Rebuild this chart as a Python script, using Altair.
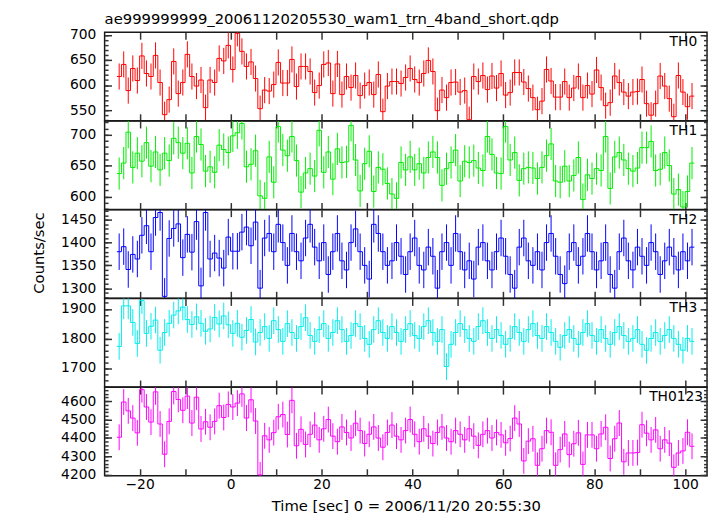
import altair as alt
import pandas as pd

FONT = "DejaVu Sans"

# bin start times [s] (1-s bins)
t0 = list(range(-25, 102))

th0 = [617, 641, 589, 633, 609, 658, 623, 617, 659, 605,
       541, 571, 647, 583, 605, 661, 617, 598, 610, 555,
       610, 605, 653, 648, 679, 631, 703, 667, 637, 646,
       613, 553, 590, 588, 601, 645, 604, 604, 651, 597,
       637, 637, 627, 585, 599, 641, 644, 583, 642, 581,
       617, 595, 619, 579, 599, 605, 581, 621, 547, 598,
       607, 607, 603, 615, 633, 611, 605, 623, 649, 627,
       549, 590, 575, 605, 606, 586, 589, 531, 617, 607,
       619, 591, 618, 594, 623, 580, 585, 625, 625, 606,
       593, 575, 551, 568, 631, 608, 576, 576, 607, 575,
       594, 617, 575, 599, 582, 630, 595, 559, 565, 618,
       605, 586, 578, 586, 587, 611, 563, 540, 563, 618,
       598, 573, 537, 619, 586, 557, 578]

th1 = [637, 654, 704, 647, 670, 657, 687, 649, 672, 643,
       670, 658, 694, 687, 670, 686, 638, 697, 684, 641,
       648, 639, 683, 676, 671, 698, 703, 718, 648, 652,
       674, 601, 597, 664, 623, 713, 675, 666, 697, 658,
       607, 638, 645, 633, 707, 639, 672, 628, 677, 655,
       656, 715, 659, 609, 653, 673, 608, 647, 644, 621,
       604, 597, 655, 643, 664, 643, 653, 638, 663, 672,
       663, 618, 645, 655, 675, 625, 657, 655, 658, 646,
       642, 697, 668, 638, 637, 713, 659, 671, 626, 645,
       647, 646, 629, 647, 666, 685, 625, 623, 649, 625,
       634, 663, 595, 635, 629, 645, 642, 697, 613, 664,
       671, 659, 645, 641, 646, 679, 679, 689, 642, 644,
       671, 650, 604, 611, 583, 608, 654]

th2 = [1380, 1391, 1341, 1374, 1364, 1416, 1437, 1380, 1455, 1466,
       1282, 1409, 1431, 1441, 1367, 1418, 1379, 1446, 1305, 1466,
       1364, 1377, 1366, 1344, 1412, 1381, 1381, 1423, 1434, 1393,
       1445, 1300, 1410, 1420, 1380, 1440, 1400, 1350, 1420, 1380,
       1360, 1410, 1440, 1390, 1360, 1400, 1330, 1380, 1420, 1360,
       1340, 1400, 1430, 1380, 1350, 1320, 1440, 1420, 1380, 1350,
       1360, 1400, 1370, 1330, 1380, 1410, 1350, 1340, 1390, 1370,
       1300, 1380, 1400, 1350, 1420, 1380, 1340, 1360, 1320, 1390,
       1400, 1360, 1340, 1380, 1410, 1370, 1330, 1300, 1390, 1410,
       1360, 1350, 1380, 1340, 1400, 1420, 1370, 1330, 1310, 1380,
       1400, 1350, 1370, 1420, 1380, 1340, 1360, 1400, 1330, 1300,
       1380, 1410, 1360, 1340, 1390, 1370, 1350, 1400, 1380, 1330,
       1360, 1390, 1370, 1340, 1380, 1360, 1390]

th3 = [1773, 1910, 1910, 1854, 1783, 1928, 1817, 1841, 1862, 1760,
       1820, 1851, 1879, 1893, 1906, 1864, 1847, 1873, 1851, 1824,
       1832, 1871, 1849, 1876, 1846, 1817, 1851, 1804, 1827, 1864,
       1788, 1820, 1840, 1800, 1860, 1830, 1790, 1850, 1820, 1800,
       1840, 1870, 1810, 1790, 1830, 1850, 1800, 1820, 1860, 1830,
       1790, 1810, 1850, 1840, 1800, 1780, 1830, 1860, 1820, 1800,
       1840, 1820, 1790, 1830, 1850, 1810, 1800, 1840, 1860, 1820,
       1790, 1830, 1705, 1780, 1820, 1850, 1830, 1800, 1790, 1840,
       1860, 1820, 1800, 1830, 1810, 1780, 1800, 1840, 1820, 1790,
       1830, 1850, 1810, 1800, 1840, 1820, 1790, 1770, 1810, 1830,
       1800, 1780, 1820, 1850, 1810, 1790, 1830, 1800, 1780, 1820,
       1840, 1810, 1790, 1800, 1830, 1780, 1760, 1800, 1820, 1790,
       1810, 1830, 1800, 1780, 1760, 1800, 1790]

th0123 = [4404, 4595, 4547, 4508, 4428, 4662, 4568, 4486, 4650, 4476,
          4312, 4490, 4652, 4609, 4550, 4627, 4481, 4621, 4449, 4488,
          4458, 4490, 4575, 4511, 4582, 4568, 4589, 4639, 4508, 4607,
          4492, 4200, 4412, 4390, 4429, 4515, 4527, 4419, 4604, 4358,
          4447, 4365, 4420, 4470, 4390, 4450, 4500, 4410, 4380, 4460,
          4430, 4400, 4480, 4440, 4370, 4420, 4460, 4400, 4350, 4430,
          4470, 4410, 4390, 4440, 4500, 4420, 4380, 4450, 4410, 4370,
          4430, 4460, 4400, 4380, 4440, 4420, 4390, 4450, 4410, 4360,
          4420, 4440, 4400, 4430, 4417, 4374, 4397, 4508, 4476, 4276,
          4383, 4396, 4252, 4342, 4440, 4431, 4252, 4337, 4422, 4310,
          4369, 4428, 4257, 4417, 4417, 4342, 4422, 4458, 4289, 4396,
          4481, 4271, 4319, 4319, 4321, 4472, 4426, 4390, 4444, 4342,
          4390, 4372, 4241, 4319, 4330, 4431, 4355]

series = [th0, th1, th2, th3, th0123]
names = ["TH0", "TH1", "TH2", "TH3", "TH0123"]
colors = ["#ff0000", "#00ee00", "#0000ff", "#00eeee", "#ff00ff"]
errs = [26, 26, 40, 45, 70]
ydom = [[529, 705], [579, 722], [1278, 1472], [1636, 1935], [4196, 4675]]
major = [[550, 600, 650, 700], [600, 650, 700], [1300, 1350, 1400, 1450],
         [1700, 1800, 1900], [4200, 4300, 4400, 4500, 4600]]
minor_step = [10, 10, 10, 20, 20]
label_gap = [10, 10, 10, 10, 4]

XDOM = [-27.7, 104.8]
xticks = list(range(-20, 101, 10))
W, H = 611, 89.7

TITLE = "ae999999999_20061120205530_wam1_trn_4band_short.qdp"
XTITLE = "Time [sec] 0 = 2006/11/20 20:55:30"
YTITLE = "Counts/sec"


def panel(k):
    last = k == len(series) - 1
    vals = series[k]
    c = colors[k]
    step = pd.DataFrame({"t": t0 + [t0[-1] + 1], "rate": vals + [vals[-1]]})
    bars = pd.DataFrame({"t": [t + 0.5 for t in t0],
                         "lo": [v - errs[k] for v in vals],
                         "hi": [v + errs[k] for v in vals]})
    xs = alt.Scale(domain=XDOM, nice=False, zero=False)
    ys = alt.Scale(domain=ydom[k], nice=False, zero=False)
    lo, hi = ydom[k]
    m = minor_step[k]
    minors = [v for v in range(int(lo // m * m), int(hi) + 1, m) if lo <= v <= hi]

    bottom_kw = dict(orient="bottom", values=xticks, offset=-7, tickSize=7, domain=False,
                     labels=last, labelPadding=2, title=None,
                     labelExpr="datum.value % 20 == 0 ? datum.label : ''")
    if last:
        bottom_kw["title"] = XTITLE
        bottom_kw["titlePadding"] = 7
    ax_bottom = alt.Axis(**bottom_kw)
    ax_top = alt.Axis(orient="top", values=xticks, offset=-7, tickSize=7, domain=False,
                      labels=False, title=None)
    ax_left = alt.Axis(orient="left", values=major[k], offset=-7, tickSize=7, domain=False,
                       labelPadding=9, title=None, format="d")
    ax_right = alt.Axis(orient="right", values=major[k], offset=-7, tickSize=7, domain=False,
                        labels=False, title=None)
    ax_lmin = alt.Axis(orient="left", values=minors, offset=-3.5, tickSize=3.5, domain=False,
                       labels=False, title=None)
    ax_rmin = alt.Axis(orient="right", values=minors, offset=-3.5, tickSize=3.5, domain=False,
                       labels=False, title=None)

    lmin = alt.Chart(step).mark_line(opacity=0).encode(
        x=alt.X("t:Q", scale=xs, axis=None), y=alt.Y("rate:Q", scale=ys, axis=ax_lmin))
    rmin = alt.Chart(step).mark_line(opacity=0).encode(
        x=alt.X("t:Q", scale=xs, axis=None), y=alt.Y("rate:Q", scale=ys, axis=ax_rmin))
    err = alt.Chart(bars).mark_rule(color=c, strokeWidth=1, clip=True).encode(
        x=alt.X("t:Q", scale=xs, axis=ax_top),
        y=alt.Y("lo:Q", scale=ys, axis=ax_right), y2="hi:Q")
    line = alt.Chart(step).mark_line(interpolate="step-after", color=c, strokeWidth=1,
                                     clip=True).encode(
        x=alt.X("t:Q", scale=xs, axis=ax_bottom),
        y=alt.Y("rate:Q", scale=ys, axis=ax_left))
    label = alt.Chart(pd.DataFrame({"n": [names[k]]})).mark_text(
        align="right", baseline="alphabetic", fontSize=14, font=FONT, color="black").encode(
        x=alt.value(W - label_gap[k]), y=alt.value(14), text="n:N")
    layers = [lmin, rmin, err, line, label]
    if k == 0:
        layers.append(alt.Chart(pd.DataFrame({"s": [TITLE]})).mark_text(
            align="left", baseline="alphabetic", fontSize=15, font=FONT, color="black").encode(
            x=alt.value(0), y=alt.value(-8), text="s:N"))
    if k == 2:
        layers.append(alt.Chart(pd.DataFrame({"s": [YTITLE]})).mark_text(
            align="center", baseline="middle", angle=270, fontSize=15, font=FONT,
            color="black").encode(x=alt.value(-66), y=alt.value(H / 2 - 1), text="s:N"))
    return alt.layer(*layers).resolve_scale(x="shared", y="shared").resolve_axis(
        x="independent", y="independent").properties(width=W, height=H)


chart = alt.vconcat(*[panel(k) for k in range(len(series))], spacing=0, bounds="flush").properties(
    padding={"left": 24, "top": 0, "right": 0, "bottom": 0}
).configure_view(stroke="#1a1a1a", strokeWidth=1.5).configure_axis(
    tickColor="#333333", tickWidth=1.5, labelFont=FONT, labelFontSize=14, labelColor="black",
    titleFont=FONT, titleFontSize=15, titleFontWeight="normal", titleColor="black", grid=False)

chart.save("out.html", embed_options={"renderer": "svg", "actions": False})
